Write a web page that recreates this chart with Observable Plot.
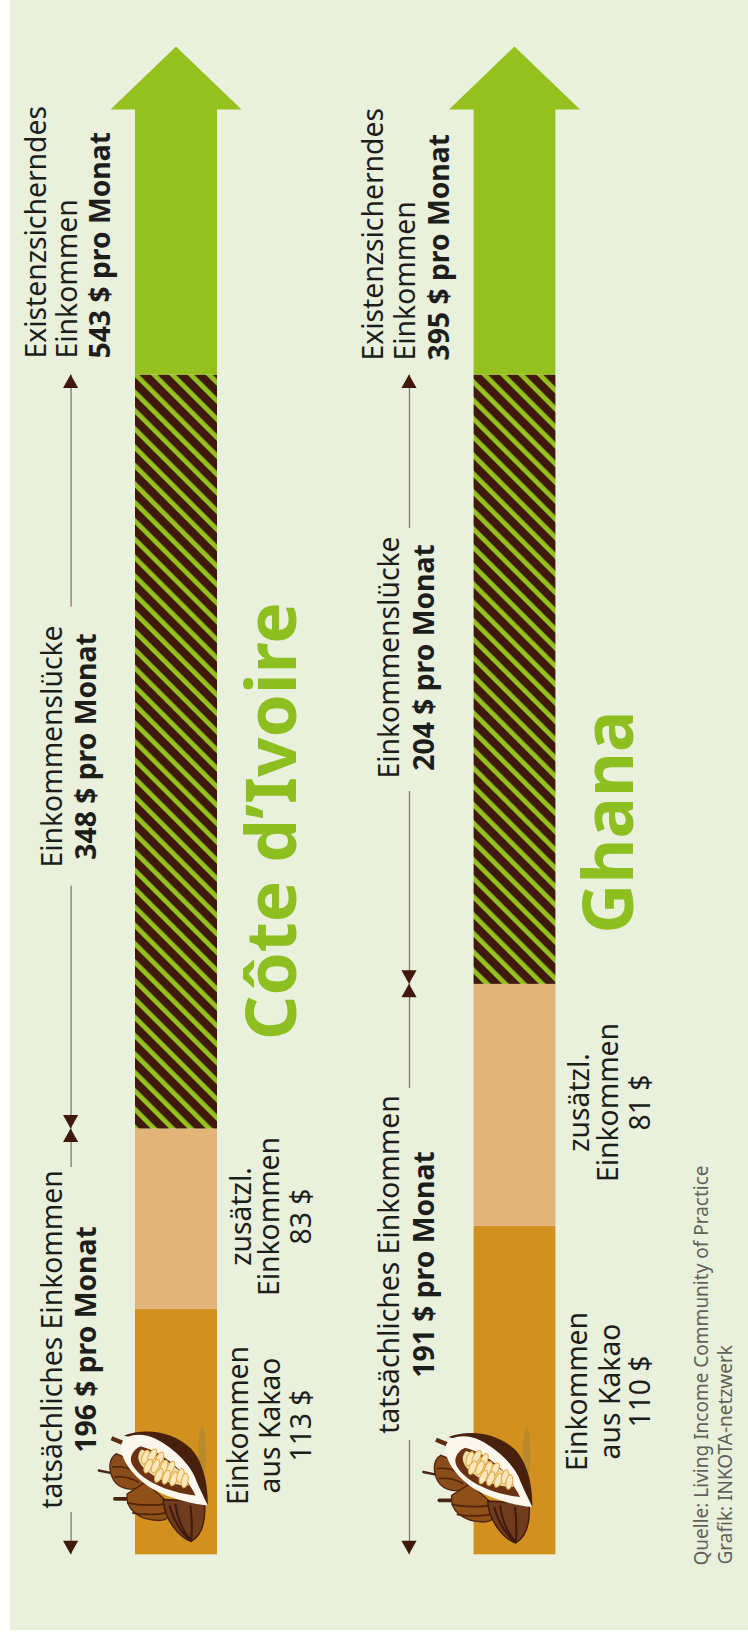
<!DOCTYPE html>
<html lang="de">
<head>
<meta charset="utf-8">
<script src="https://cdn.jsdelivr.net/npm/d3@7"></script>
<script src="https://cdn.jsdelivr.net/npm/@observablehq/plot@0.6"></script>
<style>
html,body{margin:0;padding:0;background:#fff;}
#page{position:relative;width:748px;height:1638px;overflow:hidden;background:#fff;}
#bg{position:absolute;left:10px;top:0;right:0;height:1630px;background:#e9f0dc;}
#row{position:absolute;left:0;top:0;display:flex;width:748px;}
#row svg{display:block;flex:none;}
</style>
</head>
<body>
<div id="page"><div id="bg"></div><div id="row"></div></div>
<script>
// ---- data ----
const countries    = ["Côte d’Ivoire", "Ghana"];
const cacaoIncome  = [113, 110];
const extraIncome  = [83, 81];
const actualIncome = [196, 191];
const gapIncome    = [348, 204];
const livingIncome = [543, 395];

const labelLiving  = ["Existenzsicherndes", "Einkommen"];
const labelGap     = "Einkommenslücke";
const labelActual  = "tatsächliches Einkommen";
const labelCacao   = ["Einkommen", "aus Kakao"];
const labelExtra   = ["zusätzl.", "Einkommen"];
const perMonth     = "pro Monat";
const sourceLines  = ["Quelle: Living Income Community of Practice", "Grafik: INKOTA-netzwerk"];

// ---- colours ----
const GREEN = "#95c11f", TITLE = "#8dbf21", BROWN = "#3f1a0c", RULE = "#85786c",
      TAN = "#e2b477", ORANGE = "#d2911e", INK = "#1d1d1b", GREY = "#5e625a";
const FONT = "'Noto Sans', sans-serif";

// ---- cocoa pod illustration ----
const seeds = [[150,95,-60],[170,90,-50],[192,100,-55],[158,122,-55],[180,122,-55],[205,125,-60],[225,128,-55],[190,150,-55],[212,155,-60],[235,160,-60],[255,150,-65],[268,165,-70]]
  .map(([x,y,r]) => `<ellipse cx="${x}" cy="${y}" rx="10" ry="22" transform="rotate(${r+80} ${x} ${y})" fill="#f8e8bb" stroke="#e3a945" stroke-width="3"/>`).join("");
const podSvg = `<svg xmlns="http://www.w3.org/2000/svg" viewBox="0 0 375 375">
<ellipse cx="320" cy="80" rx="11" ry="80" fill="#b98a2c"/>
<path d="M10,135 L48,143" stroke="#4a2410" stroke-width="7" fill="none" stroke-linecap="round"/>
<path d="M62,85 C38,100 38,135 55,165 C72,192 110,196 140,186 L150,120 Z" fill="#8a4c18" stroke="#50250c" stroke-width="4"/>
<path d="M50,125 C80,120 105,130 125,140 M56,155 C85,150 110,160 130,170" stroke="#50250c" stroke-width="5" fill="none"/>
<path d="M58,220 L100,220" stroke="#4a2410" stroke-width="11" stroke-linecap="round"/>
<path d="M95,205 C88,250 130,285 190,285 C220,285 232,265 222,235 L150,170 Z" fill="#8f5019" stroke="#50250c" stroke-width="4"/>
<path d="M95,232 C130,240 180,240 215,235 M110,262 C140,268 180,268 215,262" stroke="#50250c" stroke-width="5" fill="none"/>
<path d="M203,222 C205,280 250,335 287,348 C318,330 332,290 327,228 Z" fill="#6f3d1e" stroke="#3f1a0c" stroke-width="4"/>
<path d="M240,235 C245,280 265,320 287,346 M285,240 C290,285 290,320 287,346 M222,240 C235,285 260,325 287,346" stroke="#3f1a0c" stroke-width="6" fill="none"/>
<path d="M85,30 C150,5 235,18 287,70 C328,115 338,190 337,240 L290,200 L200,60 Z" fill="#47200e"/>
<path d="M48,38 L88,55" stroke="#5a2c14" stroke-width="13" fill="none"/>
<path d="M78,55 C88,25 140,20 180,40 C240,70 290,125 302,165 C315,195 328,220 337,240 C290,236 230,222 170,190 C120,160 68,100 78,55 Z" fill="#fbf7ec"/>
<path d="M135,62 C115,70 98,95 110,117 C135,162 210,200 300,210 C292,190 280,180 276,165 C240,110 185,75 135,62 Z" fill="#6a3212"/>
<path d="M138,72 C125,85 125,105 140,122 C170,155 225,180 280,180 C270,150 240,110 138,72 Z" fill="#f1dfa8"/>
${seeds}
</svg>`;
const podSrc = "data:image/svg+xml," + encodeURIComponent(podSvg);

// ---- layout, in picture pixels, per panel ----
const BAR_BOTTOM = 1554.3, BAR_TOP = 374.6, HEAD_BASE = 109.6, TIP = 46.4;
const H = 1638;
const panels = [
  {x0: 0, width: 338, barL: 135, barR: 217, arrowX: 70.6, podX: 157.5, podY: 1487.5, hatchShift: 2.4,
   lines: {a: 52, b: 86.5}, liv: [36, 67, 100], livY: 358, gapY: 746, actY: 1339,
   gapRule: [606.4, 885.7], actRule: [1167, 1512], below: [238.5, 270, 301.5], cacaoY: 1425, extraY: 1216,
   extraX: [241, 269.6, 301.5], titleX: 273, titleY: 820.7},
  {x0: 338, width: 410, barL: 473.6, barR: 555.4, arrowX: 409, podX: 482, podY: 1489, hatchShift: 7.7,
   lines: {a: 389, b: 424.6}, liv: [373.6, 405.5, 439], livY: 360, gapY: 657, actY: 1264,
   gapRule: [528, 791], actRule: [1088, 1440], below: [577, 610.7, 640], cacaoY: 1391, extraY: 1102,
   extraX: [579.7, 608, 640], titleX: 610, titleY: 821.6}
];

function panelPlot(p, i) {
  const live = livingIncome[i];
  const v = px => (BAR_BOTTOM - px) / (BAR_BOTTOM - BAR_TOP) * live;   // picture pixel → $ on this panel's scale
  const toPx = val => BAR_BOTTOM - (BAR_BOTTOM - BAR_TOP) * val / live;
  const cx = (p.barL + p.barR) / 2, headHalf = 65.5;
  const hatchId = `hatch${i}`;

  const txt = (rows, o = {}) => Plot.text(rows, {
    x: "x", y: d => v(d.py), text: "t", rotate: -90, fontFamily: FONT,
    fontSize: 28.3, fill: INK, textAnchor: "middle", ...o
  });

  // dir +1: the head points down the page; -1: up
  const heads = [
    {id: "a", tip: live, dir: -1}, {id: "b", tip: actualIncome[i], dir: 1},
    {id: "c", tip: actualIncome[i], dir: -1}, {id: "d", tip: 0, dir: 1}
  ].flatMap(h => {
    const tipPx = toPx(h.tip);
    return [
      {id: h.id, y: h.tip, l: p.arrowX, r: p.arrowX},
      {id: h.id, y: v(tipPx - h.dir * 13.5), l: p.arrowX - 7.6, r: p.arrowX + 7.6}
    ];
  });

  const rules = [
    {y1: live, y2: v(p.gapRule[0])},
    {y1: v(p.gapRule[1]), y2: actualIncome[i]},
    {y1: actualIncome[i], y2: v(p.actRule[0])},
    {y1: v(p.actRule[1]), y2: 0}
  ];

  const defs = () => {
    const g = d3.create("svg:defs");
    const pat = g.append("pattern").attr("id", hatchId).attr("patternUnits", "userSpaceOnUse")
      .attr("width", 13).attr("height", 13).attr("patternTransform", `rotate(45) translate(0 ${p.hatchShift})`);
    pat.append("rect").attr("width", 13).attr("height", 13).attr("fill", GREEN);
    pat.append("rect").attr("width", 13).attr("height", 8.2).attr("fill", BROWN);
    return g.node();
  };

  const marks = [
    defs,
    Plot.rect([{a: 0, b: cacaoIncome[i]}], {x1: p.barL, x2: p.barR, y1: "a", y2: "b", fill: ORANGE}),
    Plot.rect([{a: cacaoIncome[i], b: actualIncome[i]}], {x1: p.barL, x2: p.barR, y1: "a", y2: "b", fill: TAN}),
    Plot.rect([{a: actualIncome[i], b: live}], {x1: p.barL, x2: p.barR, y1: "a", y2: "b", fill: `url(#${hatchId})`}),
    // the shaft runs a little into the head, so no seam shows where they meet
    Plot.rect([{a: live, b: v(HEAD_BASE - 4)}], {x1: p.barL, x2: p.barR, y1: "a", y2: "b", fill: GREEN}),
    Plot.area([{y: v(HEAD_BASE), l: cx - headHalf, r: cx + headHalf}, {y: v(TIP), l: cx, r: cx}],
      {x1: "l", x2: "r", y1: "y", y2: "y", fill: GREEN, curve: "linear"}),
    Plot.ruleX(rules, {x: p.arrowX, y1: "y1", y2: "y2", stroke: RULE, strokeWidth: 1.3}),
    Plot.area(heads, {x1: "l", x2: "r", y1: "y", y2: "y", z: "id", fill: BROWN, curve: "linear"}),
    Plot.image([{}], {x: p.podX, y: v(p.podY), src: podSrc, width: 125, height: 125}),

    // living income
    txt([{x: p.liv[0], py: p.livY, t: labelLiving[0]}, {x: p.liv[1], py: p.livY, t: labelLiving[1]}], {textAnchor: "start"}),
    txt([{x: p.liv[2], py: p.livY, t: `${live} $ ${perMonth}`}], {textAnchor: "start", fontWeight: 700}),
    // income gap
    txt([{x: p.lines.a, py: p.gapY, t: labelGap}]),
    txt([{x: p.lines.b, py: p.gapY, t: `${gapIncome[i]} $ ${perMonth}`}], {fontWeight: 700}),
    // actual income
    txt([{x: p.lines.a, py: p.actY, t: labelActual}]),
    txt([{x: p.lines.b, py: p.actY, t: `${actualIncome[i]} $ ${perMonth}`}], {fontWeight: 700}),
    // below-the-bar labels
    txt([{x: p.below[0], py: p.cacaoY, t: labelCacao[0]}, {x: p.below[1], py: p.cacaoY, t: labelCacao[1]}, {x: p.below[2], py: p.cacaoY, t: `${cacaoIncome[i]} $`}]),
    txt([{x: p.extraX[0], py: p.extraY, t: labelExtra[0]}, {x: p.extraX[1], py: p.extraY, t: labelExtra[1]}, {x: p.extraX[2], py: p.extraY, t: `${extraIncome[i]} $`}]),
    // country
    txt([{x: p.titleX, py: p.titleY, t: countries[i]}], {fontSize: 69.3, fontWeight: 700, fill: TITLE})
  ];
  if (i === 1) {
    marks.push(txt([{x: 701, py: 1565, t: sourceLines[0]}, {x: 725, py: 1564, t: sourceLines[1]}],
      {textAnchor: "start", fontSize: 19, fill: GREY}));
  }

  return Plot.plot({
    width: p.width, height: H,
    marginTop: 0, marginRight: 0, marginBottom: 0, marginLeft: 0,
    style: {background: "transparent"},
    x: {domain: [p.x0, p.x0 + p.width], range: [0, p.width], axis: null},
    y: {domain: [0, live], range: [BAR_BOTTOM, BAR_TOP], axis: null},
    marks
  });
}

const row = document.getElementById("row");
panels.forEach((p, i) => row.append(panelPlot(p, i)));
</script>
</body>
</html>
